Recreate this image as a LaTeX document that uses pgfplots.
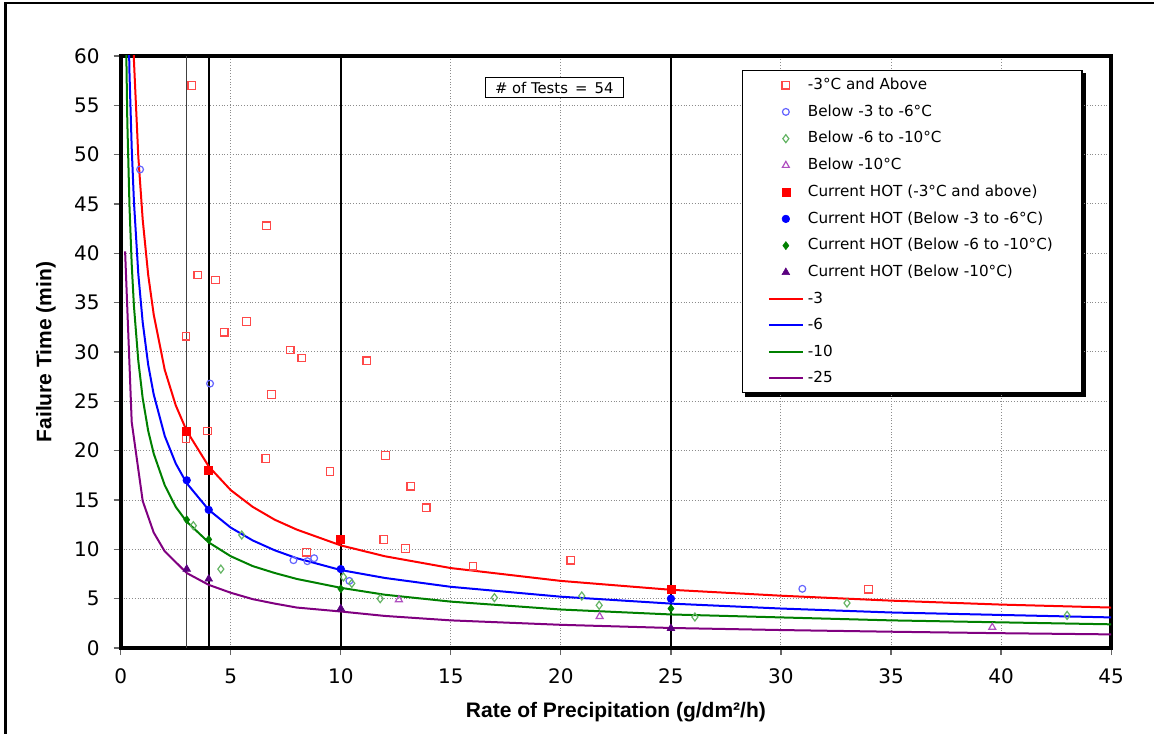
\documentclass[border=0pt]{standalone}
\usepackage{fontspec}
\setmainfont{Liberation Sans}
\newfontfamily\dejavu{DejaVu Sans}
\usepackage{pgfplots}
\pgfplotsset{compat=1.18}
\pgfdeclarelayer{background}
\pgfsetlayers{background,main}
\definecolor{sqred}{HTML}{FF4848}
\definecolor{cirblue}{HTML}{6464FF}
\definecolor{dialgreen}{HTML}{64B464}
\definecolor{tripurp}{HTML}{B050C0}
\definecolor{hotred}{HTML}{FF0000}
\definecolor{hotblue}{HTML}{0000FF}
\definecolor{hotgreen}{HTML}{008000}
\definecolor{hotpurp}{HTML}{5A007F}
\definecolor{cred}{HTML}{FF0000}
\definecolor{cblue}{HTML}{0000FF}
\definecolor{cgreen}{HTML}{008000}
\definecolor{cpurp}{HTML}{800080}
\begin{document}
\begin{tikzpicture}
\useasboundingbox (0,0) rectangle (577pt,366.5pt);
\draw[line width=1.3pt] (2.6pt,-5pt) -- (2.6pt,365pt) -- (590pt,365pt);
\begin{axis}[
  at={(60.35pt,42.5pt)}, anchor=south west,
  scale only axis, width=495.2pt, height=296pt,
  xmin=0, xmax=45, ymin=0, ymax=60,
  xtick={0,5,...,45}, ytick={0,5,...,60},
  grid=major, major grid style={densely dotted, black!45, line width=0.5pt},
  axis line style={line width=2.2pt},
  tick align=outside, tick pos=left, major tick length=3.5pt,
  major tick style={black!60, line width=0.6pt},
  /pgf/number format/assume math mode=true,
  ticklabel style={font=\dejavu\fontsize{10}{12}\selectfont},
  xticklabel style={yshift=-3.5pt},
  yticklabel style={xshift=-3.5pt},
  xlabel={Rate of Precipitation (g/dm²/h)},
  ylabel={Failure Time (min)},
  xlabel style={font=\bfseries\fontsize{10.5}{12}\selectfont, at={(axis description cs:0.5,-0.1076)}, anchor=center},
  ylabel style={font=\bfseries\fontsize{10.5}{12}\selectfont, at={(axis description cs:-0.0754,0.5)}, anchor=center},
  legend style={name=leg, at={(0.6274,0.9764)}, anchor=north west, draw=black, line width=0.7pt, fill=white,
    font=\dejavu\fontsize{7.6}{9}\selectfont, inner xsep=12.5pt, inner ysep=1.6pt, row sep=2.1pt,
    cells={anchor=west}},
]
% legend entries
\addlegendimage{only marks, mark=square, mark size=1.9pt, mark options={draw=sqred, line width=0.6pt}}
\addlegendentry{-3°C and Above}
\addlegendimage{only marks, mark=o, mark size=1.7pt, mark options={draw=cirblue, line width=0.6pt}}
\addlegendentry{Below -3 to -6°C}
\addlegendimage{only marks, mark=diamond, mark size=2pt, mark options={draw=dialgreen, line width=0.6pt}}
\addlegendentry{Below -6 to -10°C}
\addlegendimage{only marks, mark=triangle, mark size=2pt, mark options={draw=tripurp, line width=0.6pt}}
\addlegendentry{Below -10°C}
\addlegendimage{only marks, mark=square*, mark size=2pt, mark options={fill=hotred, draw=hotred, line width=0.3pt}}
\addlegendentry{Current HOT (-3°C and above)}
\addlegendimage{only marks, mark=*, mark size=1.9pt, mark options={fill=hotblue, draw=hotblue, line width=0.3pt}}
\addlegendentry{Current HOT (Below -3 to -6°C)}
\addlegendimage{only marks, mark=diamond*, mark size=2pt, mark options={fill=hotgreen, draw=hotgreen, line width=0.3pt}}
\addlegendentry{Current HOT (Below -6 to -10°C)}
\addlegendimage{only marks, mark=triangle*, mark size=2.2pt, mark options={fill=hotpurp, draw=hotpurp, line width=0.3pt}}
\addlegendentry{Current HOT (Below -10°C)}
\addlegendimage{no marks, cred, line width=1pt}
\addlegendentry{-3}
\addlegendimage{no marks, cblue, line width=1pt}
\addlegendentry{-6}
\addlegendimage{no marks, cgreen, line width=1pt}
\addlegendentry{-10}
\addlegendimage{no marks, cpurp, line width=1pt}
\addlegendentry{-25}

% vertical reference lines
\addplot[forget plot, black!75, line width=0.7pt] coordinates {(3,0) (3,60)};
\addplot[forget plot, black, line width=1pt] coordinates {(4,0) (4,60)};
\addplot[forget plot, black, line width=1pt] coordinates {(10,0) (10,60)};
\addplot[forget plot, black, line width=1pt] coordinates {(25,0) (25,60)};

% curves
\addplot[forget plot, cred, line width=1pt] coordinates {
(0.3,91.6) (0.4,76.6) (0.5,66.7) (0.6,59.6) (0.8,49.8) (1,43.4) (1.25,37.8) (1.5,33.8) (2,28.2) (2.5,24.6)
(3,22.0) (4,18.4) (5,16.0) (6,14.3) (7,13.0) (8,12.0) (10,10.4) (12,9.3) (15,8.1) (20,6.8)
(25,5.9) (30,5.3) (35,4.8) (40,4.4) (45,4.1)};
\addplot[forget plot, cblue, line width=1pt] coordinates {
(0.2,89.5) (0.3,69.6) (0.4,58.2) (0.5,50.7) (0.6,45.3) (0.8,37.9) (1,33.0) (1.25,28.7) (1.5,25.7) (2,21.5) (2.5,18.7)
(3,16.7) (4,14.0) (5,12.2) (6,10.9) (7,9.9) (8,9.1) (10,7.9) (12,7.1) (15,6.2) (20,5.2)
(25,4.5) (30,4.0) (35,3.6) (40,3.35) (45,3.1)};
\addplot[forget plot, cgreen, line width=1pt] coordinates {
(0.2,68.6) (0.3,53.4) (0.4,44.7) (0.5,38.9) (0.6,34.7) (0.8,29.1) (1,25.3) (1.25,22.0) (1.5,19.7) (2,16.5) (2.5,14.3)
(3,12.8) (4,10.7) (5,9.3) (6,8.3) (7,7.6) (8,7.0) (10,6.1) (12,5.4) (15,4.7) (20,3.9)
(25,3.4) (30,3.1) (35,2.8) (40,2.6) (45,2.4)};
\addplot[forget plot, cpurp, line width=1pt] coordinates {
(0.2,40.2) (0.5,22.9) (1,14.9) (1.5,11.7) (2,9.8)
(3,7.6) (4,6.4) (5,5.6) (6,4.95) (7,4.5) (8,4.1) (10,3.7) (12,3.25) (15,2.8) (20,2.35)
(25,2.03) (30,1.82) (35,1.65) (40,1.5) (45,1.38)};

% observed data
\addplot[forget plot, only marks, mark=square, mark size=1.9pt, mark options={draw=sqred, line width=0.6pt}] coordinates {
(3.23,57.0) (6.63,42.8) (3.5,37.8) (4.3,37.3) (5.71,33.1) (4.7,32.0) (2.97,31.6) (7.7,30.2)
(8.23,29.4) (11.18,29.1) (6.86,25.7) (3.95,22.0) (2.97,21.2) (6.59,19.2) (12.03,19.5) (9.51,17.9)
(13.18,16.4) (13.88,14.2) (11.95,11.0) (12.94,10.1) (8.45,9.7) (16.01,8.3) (20.45,8.9) (33.98,5.95)};
\addplot[forget plot, only marks, mark=o, mark size=1.7pt, mark options={draw=cirblue, line width=0.6pt}] coordinates {
(0.88,48.5) (4.06,26.8) (7.85,8.9) (8.48,8.8) (8.79,9.1) (10.39,6.8) (30.97,6.0)};
\addplot[forget plot, only marks, mark=diamond, mark size=2pt, mark options={draw=dialgreen, line width=0.6pt}] coordinates {
(3.3,12.4) (5.5,11.45) (4.55,8.0) (10.12,7.2) (10.5,6.55) (11.79,5.0) (16.98,5.1) (20.95,5.27)
(21.74,4.33) (26.09,3.14) (33.0,4.56) (43.0,3.3)};
\addplot[forget plot, only marks, mark=triangle, mark size=2pt, mark options={draw=tripurp, line width=0.6pt}] coordinates {
(12.64,4.9) (21.76,3.2) (39.6,2.1)};

% current HOT
\addplot[forget plot, only marks, mark=square*, mark size=2pt, mark options={fill=hotred, draw=hotred, line width=0.3pt}] coordinates {
(3,22) (4,18) (10,11) (25,6)};
\addplot[forget plot, only marks, mark=*, mark size=1.9pt, mark options={fill=hotblue, draw=hotblue, line width=0.3pt}] coordinates {
(3,17) (4,14) (10,8) (25,5)};
\addplot[forget plot, only marks, mark=diamond*, mark size=2pt, mark options={fill=hotgreen, draw=hotgreen, line width=0.3pt}] coordinates {
(3,13) (4,11) (10,6) (25,4)};
\addplot[forget plot, only marks, mark=triangle*, mark size=2.2pt, mark options={fill=hotpurp, draw=hotpurp, line width=0.3pt}] coordinates {
(3,8) (4,7) (10,4) (25,2)};

\node[draw=black, line width=0.7pt, fill=white, font=\dejavu\fontsize{7.4}{9}\selectfont,
  minimum width=69pt, minimum height=10pt, inner sep=1pt] at (axis cs:19.7,56.8) {\# of Tests \,=\, 54};
\end{axis}
\begin{pgfonlayer}{background}
\fill[black] ([shift={(1.6pt,-1.6pt)}]leg.south west) rectangle ([shift={(1.6pt,-1.6pt)}]leg.north east);
\end{pgfonlayer}
\end{tikzpicture}
\end{document}
